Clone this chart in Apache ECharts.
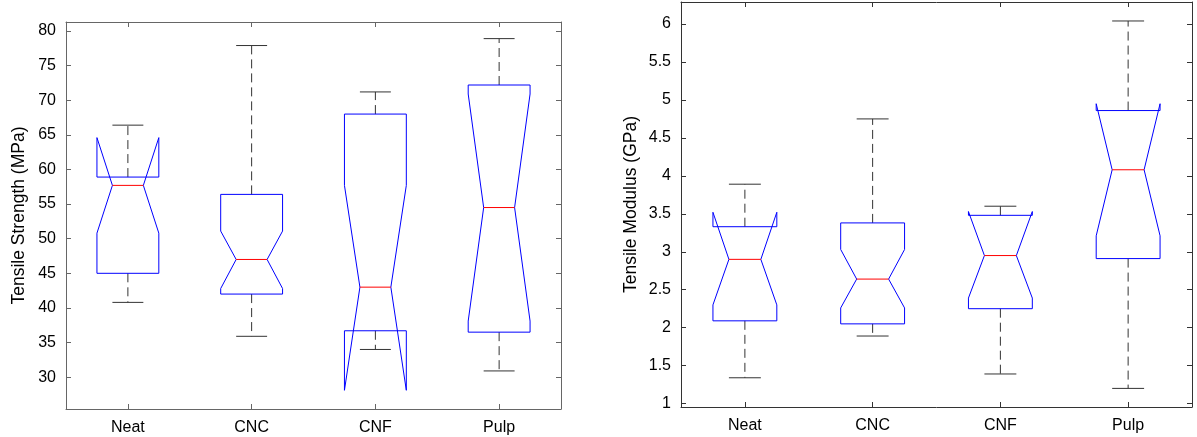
<!DOCTYPE html>
<html>
<head>
<meta charset="utf-8">
<script src="https://cdn.jsdelivr.net/npm/echarts@6/dist/echarts.min.js"></script>
<style>
  html, body { margin: 0; padding: 0; background: #fff; }
  #main { width: 1197px; height: 437px; }
</style>
</head>
<body>
<div id="main"></div>
<script>
// categories shared by both panels
var categories = ['Neat', 'CNC', 'CNF', 'Pulp'];

// tensile strength (MPa)
var strengthLowWhisker = [40.8, 35.9, 34.0, 30.9];
var strengthQ1 = [45.0, 42.0, 36.7, 36.5];
var strengthNotchLow = [50.8, 42.8, 28.1, 38.1];
var strengthMedian = [57.7, 47.0, 43.0, 54.5];
var strengthNotchHigh = [64.6, 51.1, 57.7, 70.9];
var strengthQ3 = [58.9, 56.4, 68.0, 72.2];
var strengthHighWhisker = [66.4, 77.9, 71.2, 78.9];
var strengthTicks = [30, 35, 40, 45, 50, 55, 60, 65, 70, 75, 80];

// tensile modulus (GPa)
var modulusLowWhisker = [1.34, 1.89, 1.39, 1.20];
var modulusQ1 = [2.09, 2.05, 2.25, 2.91];
var modulusNotchLow = [2.30, 2.26, 2.39, 3.21];
var modulusMedian = [2.90, 2.64, 2.95, 4.08];
var modulusNotchHigh = [3.52, 3.03, 3.53, 4.95];
var modulusQ3 = [3.33, 3.38, 3.48, 4.86];
var modulusHighWhisker = [3.89, 4.75, 3.60, 6.04];
var modulusTicks = [1, 1.5, 2, 2.5, 3, 3.5, 4, 4.5, 5, 5.5, 6];

function makeRows(lo, q1, nlo, med, nhi, q3, hi) {
  return categories.map(function (c, i) {
    return [i, lo[i], q1[i], nlo[i], med[i], nhi[i], q3[i], hi[i]];
  });
}

function renderNotchBox(params, api) {
  var idx = api.value(0);
  var y = function (v) { return api.coord([idx, v])[1]; };
  var cx = api.coord([idx, api.value(4)])[0];
  var band = api.size([1, 0])[0];
  var half = band * 0.25;
  var inner = band * 0.125;
  var lo = y(api.value(1)), q1 = y(api.value(2)), nlo = y(api.value(3));
  var med = y(api.value(4)), nhi = y(api.value(5)), q3 = y(api.value(6)), hi = y(api.value(7));
  var whiskerStyle = { stroke: '#333', lineWidth: 1, lineDash: [9, 5] };
  var capStyle = { stroke: '#333', lineWidth: 1 };
  return {
    type: 'group',
    children: [
      { type: 'line', shape: { x1: cx, y1: q3, x2: cx, y2: hi }, style: whiskerStyle },
      { type: 'line', shape: { x1: cx, y1: q1, x2: cx, y2: lo }, style: whiskerStyle },
      { type: 'line', shape: { x1: cx - inner, y1: hi, x2: cx + inner, y2: hi }, style: capStyle },
      { type: 'line', shape: { x1: cx - inner, y1: lo, x2: cx + inner, y2: lo }, style: capStyle },
      {
        type: 'polygon',
        shape: {
          points: [
            [cx - half, q1], [cx - half, nlo], [cx - inner, med], [cx - half, nhi], [cx - half, q3],
            [cx + half, q3], [cx + half, nhi], [cx + inner, med], [cx + half, nlo], [cx + half, q1]
          ]
        },
        style: { fill: 'none', stroke: '#0000ff', lineWidth: 1 }
      },
      { type: 'line', shape: { x1: cx - inner, y1: med, x2: cx + inner, y2: med }, style: { stroke: '#ff0000', lineWidth: 1 } }
    ]
  };
}

function xAxes(gridIndex, color) {
  var line = { show: true, lineStyle: { color: color, width: 1 } };
  var tick = { show: true, inside: true, alignWithLabel: true, length: 5, lineStyle: { color: color } };
  return [{
    type: 'category', gridIndex: gridIndex, data: categories, position: 'bottom',
    boundaryGap: true, axisLine: line, axisTick: tick,
    axisLabel: { fontSize: 16, color: '#000', margin: 11 },
    splitLine: { show: false }
  }, {
    type: 'category', gridIndex: gridIndex, data: categories, position: 'top',
    boundaryGap: true, axisLine: line, axisTick: tick,
    axisLabel: { show: false }, splitLine: { show: false }
  }];
}

function yAxes(gridIndex, min, max, ticks, name, gap, color) {
  var line = { show: true, lineStyle: { color: color, width: 1 } };
  var tick = { show: true, inside: true, length: 5, customValues: ticks, lineStyle: { color: color } };
  return [{
    type: 'value', gridIndex: gridIndex, position: 'left', min: min, max: max,
    name: name, nameLocation: 'middle', nameGap: gap, nameRotate: 90,
    nameTextStyle: { fontSize: 17.5, color: '#000' },
    axisLine: line, axisTick: tick,
    axisLabel: { fontSize: 16, color: '#000', margin: 10, customValues: ticks },
    splitLine: { show: false }
  }, {
    type: 'value', gridIndex: gridIndex, position: 'right', min: min, max: max,
    axisLine: line, axisTick: tick,
    axisLabel: { show: false, customValues: ticks },
    splitLine: { show: false }
  }];
}

var chart = echarts.init(document.getElementById('main'));
var option = {
  animation: false,
  backgroundColor: '#fff',
  textStyle: { fontFamily: 'Liberation Sans, Arial, sans-serif' },
  grid: [
    { left: 66, top: 22, width: 495, height: 387, outerBoundsMode: 'none' },
    { left: 681, top: 2, width: 511, height: 405, outerBoundsMode: 'none' }
  ],
  xAxis: xAxes(0, '#666').concat(xAxes(1, '#333')),
  yAxis: yAxes(0, 25.4, 81.3, strengthTicks, 'Tensile Strength (MPa)', 38, '#666')
    .concat(yAxes(1, 0.955, 6.29, modulusTicks, 'Tensile Modulus (GPa)', 41, '#333')),
  series: [{
    type: 'custom', xAxisIndex: 0, yAxisIndex: 0,
    renderItem: renderNotchBox,
    encode: { x: 0, y: [1, 2, 3, 4, 5, 6, 7] },
    data: makeRows(strengthLowWhisker, strengthQ1, strengthNotchLow, strengthMedian,
      strengthNotchHigh, strengthQ3, strengthHighWhisker)
  }, {
    type: 'custom', xAxisIndex: 2, yAxisIndex: 2,
    renderItem: renderNotchBox,
    encode: { x: 0, y: [1, 2, 3, 4, 5, 6, 7] },
    data: makeRows(modulusLowWhisker, modulusQ1, modulusNotchLow, modulusMedian,
      modulusNotchHigh, modulusQ3, modulusHighWhisker)
  }]
};
chart.setOption(option);
</script>
</body>
</html>
